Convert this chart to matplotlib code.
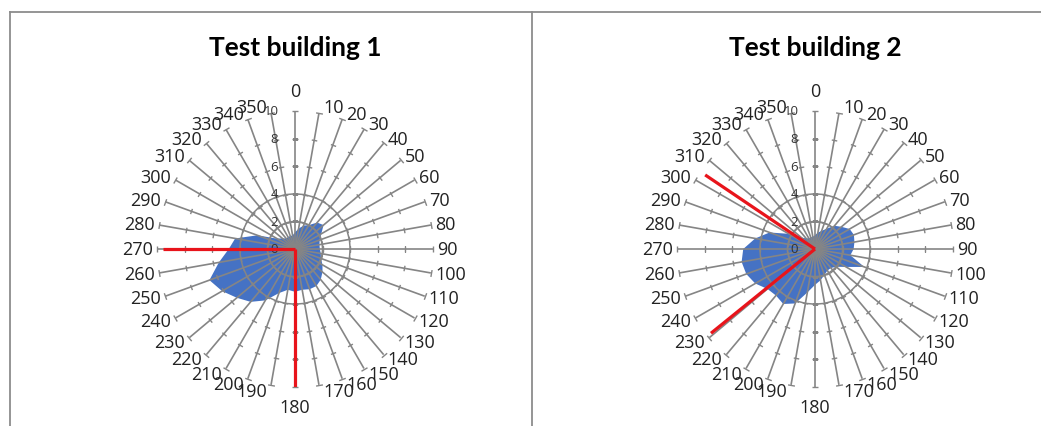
import numpy as np
import matplotlib.pyplot as plt
from matplotlib.lines import Line2D

# Hướng (độ), mỗi 10 độ
directions = [0, 10, 20, 30, 40, 50, 60, 70, 80, 90, 100, 110,
              120, 130, 140, 150, 160, 170, 180, 190, 200, 210, 220, 230,
              240, 250, 260, 270, 280, 290, 300, 310, 320, 330, 340, 350]

# Giá trị
building1 = [1.2, 1.5, 1.8, 2.0, 2.5, 2.7, 2.2, 1.9, 1.8, 1.8, 1.9, 2.0,
             2.3, 2.6, 2.9, 3.1, 3.1, 3.0, 3.1, 3.0, 3.4, 4.3, 5.0, 5.5,
             6.1, 6.6, 5.6, 4.8, 4.4, 2.9, 1.5, 1.2, 1.0, 1.0, 1.0, 1.0]
building2 = [1.0, 1.2, 1.4, 1.7, 2.2, 2.5, 2.9, 3.0, 2.9, 2.8, 2.6, 3.8,
             2.6, 2.0, 1.8, 1.8, 2.0, 2.3, 2.6, 3.2, 4.2, 4.6, 4.4, 4.5,
             5.0, 5.3, 5.4, 5.2, 4.4, 3.5, 2.2, 1.3, 1.0, 0.9, 0.9, 0.9]

# Đường đỏ đánh dấu (góc, độ dài)
red1_angles = [270, 180]
red1_lengths = [9.6, 10]
red2_angles = [304, 231]
red2_lengths = [9.6, 9.7]

titles = ["Test building 1", "Test building 2"]
r_ticks = [0, 2, 4, 6, 8, 10]

W, H = 1041, 427
FILL = "#4572c4"
GRID = "#858585"
RED = "#e8141b"
plt.rcParams['font.family'] = ['Open Sans', 'DejaVu Sans']

fig = plt.figure(figsize=(W / 100, H / 100), dpi=100)


def radar(cx, values, red_angles, red_lengths, title):
    R = 138
    ax = fig.add_axes([(cx - R) / W, (H - 250 - R) / H, 2 * R / W, 2 * R / H],
                      projection="polar")
    ax.set_theta_zero_location("N")
    ax.set_theta_direction(-1)
    ax.set_ylim(0, 10)
    ax.set_axis_off()

    th = np.deg2rad(directions)
    # vùng dữ liệu tô màu
    ax.fill(np.append(th, th[0]), values + values[:1], color=FILL, lw=0, zorder=1)

    # lưới: vòng ở 2 và 4
    for r in [2, 4]:
        ax.plot(np.append(th, th[0]), [r] * (len(th) + 1), color=GRID, lw=1.1, zorder=2)

    # trục nan hoa + vạch chia
    for d, t in zip(directions, th):
        ax.plot([t, t], [0, 10], color=GRID, lw=1.2, zorder=2)
        ax.plot([t] * 4, [2, 4, 6, 8], ls="none", marker=(2, 0, 90 - d),
                ms=4, mec=GRID, mew=1.0, zorder=2)
        ax.plot([t], [10], ls="none", marker=(2, 0, 90 - d),
                ms=5, mec=GRID, mew=1.0, zorder=2, clip_on=False)

        s, c = np.sin(t), np.cos(t)
        if d == 0:
            ax.annotate("0", (t, 10), xytext=(0, 8), textcoords="offset points",
                        ha="center", va="bottom", fontsize=13, color="#222222",
                        annotation_clip=False)
        elif d == 180:
            ax.annotate("180", (t, 10), xytext=(0, -8), textcoords="offset points",
                        ha="center", va="top", fontsize=13, color="#222222",
                        annotation_clip=False)
        else:
            ax.annotate(str(d), (t, 10), xytext=(np.sign(s) * 3, c * 4.3),
                        textcoords="offset points",
                        ha="left" if s > 0 else "right", va="center",
                        fontsize=13, color="#222222", annotation_clip=False)

    # nhãn trục bán kính
    for r in r_ticks:
        ax.annotate(str(r), (0, r), xytext=(-12, 0), textcoords="offset points",
                    ha="right", va="center", fontsize=9.5, color="#333333",
                    annotation_clip=False)

    # đường đỏ
    for a, l in zip(red_angles, red_lengths):
        ax.plot([np.deg2rad(a)] * 2, [0, l], color=RED, lw=2.3, zorder=4,
                solid_capstyle="butt")

    fig.text(cx / W, 1 - 48 / H, title, ha="center", va="center",
             fontsize=19, fontweight="bold", color="black", family="Lato")


radar(295, building1, red1_angles, red1_lengths, titles[0])
radar(815, building2, red2_angles, red2_lengths, titles[1])

# khung bảng
for xs, ys in [([10, W], [12.5, 12.5]), ([10, 10], [12.5, H]), ([532, 532], [12.5, H])]:
    fig.add_artist(Line2D([x / W for x in xs], [1 - y / H for y in ys],
                          color="#8c8c8c", lw=1.3))

plt.savefig("out.png", dpi=100)
